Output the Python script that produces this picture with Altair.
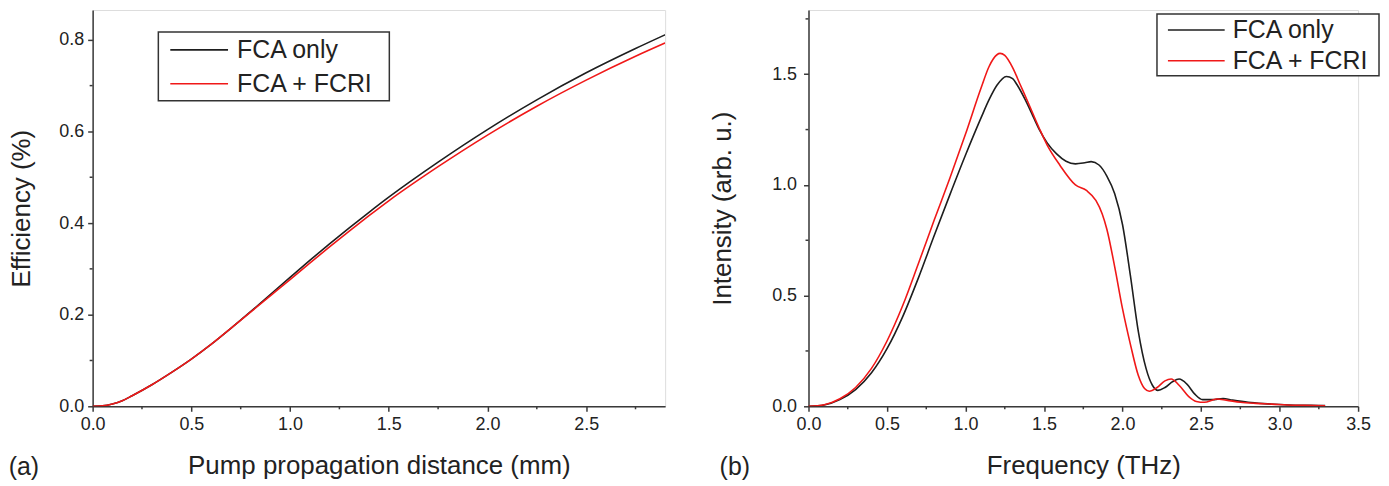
import altair as alt
import pandas as pd

# ---------------- data ----------------
series_names = ["FCA only", "FCA + FCRI"]
series_colors = ["#1e1e1e", "#f01818"]

# panel (a): efficiency vs pump propagation distance
dist_mm = [0.0, 0.05, 0.1, 0.15, 0.2, 0.3, 0.4, 0.5, 0.6, 0.7, 0.8, 0.9, 1.0,
           1.1, 1.2, 1.3, 1.4, 1.5, 1.75, 2.0, 2.25, 2.5, 2.75, 2.9]
eff_fca = [0.0, 0.001, 0.005, 0.012, 0.023, 0.047, 0.074, 0.103, 0.135, 0.170,
           0.2065, 0.244, 0.2815, 0.3185, 0.3545, 0.3895, 0.4235, 0.4565, 0.533,
           0.604, 0.669, 0.728, 0.781, 0.811]
eff_fcri = [0.0, 0.001, 0.005, 0.012, 0.023, 0.047, 0.074, 0.103, 0.135, 0.170,
            0.2055, 0.241, 0.2765, 0.3125, 0.348, 0.3825, 0.416, 0.4485, 0.523,
            0.592, 0.655, 0.712, 0.764, 0.793]

# panel (b): THz spectra
freq_fca = [0.0, 0.1, 0.2, 0.3, 0.4, 0.5, 0.6, 0.7, 0.8, 0.9, 1.0, 1.1, 1.15, 1.2,
            1.26, 1.3, 1.33, 1.38, 1.43, 1.47, 1.52, 1.58, 1.64, 1.7, 1.76, 1.8,
            1.85, 1.9, 1.95, 2.0, 2.05, 2.1, 2.15, 2.19, 2.225, 2.27, 2.32, 2.36,
            2.41, 2.46, 2.51, 2.57, 2.64, 2.7, 2.8, 2.9, 3.0, 3.1, 3.2, 3.29]
int_fca = [0.0, 0.006, 0.03, 0.075, 0.15, 0.26, 0.405, 0.58, 0.77, 0.955, 1.135,
           1.305, 1.385, 1.45, 1.49, 1.48, 1.45, 1.385, 1.31, 1.25, 1.19, 1.14,
           1.107, 1.095, 1.10, 1.105, 1.09, 1.04, 0.96, 0.82, 0.59, 0.34, 0.17,
           0.095, 0.072, 0.085, 0.112, 0.123, 0.10, 0.055, 0.03, 0.03, 0.035,
           0.028, 0.018, 0.012, 0.008, 0.005, 0.004, 0.003]

freq_fcri = [0.0, 0.1, 0.2, 0.3, 0.4, 0.5, 0.6, 0.7, 0.8, 0.9, 1.0, 1.1, 1.15, 1.2,
             1.22, 1.25, 1.3, 1.35, 1.4, 1.47, 1.52, 1.6, 1.7, 1.77, 1.83, 1.87,
             1.9, 1.95, 2.0, 2.05, 2.1, 2.14, 2.17, 2.22, 2.27, 2.31, 2.36, 2.42,
             2.47, 2.52, 2.6, 2.66, 2.75, 2.85, 2.95, 3.05, 3.15, 3.29]
int_fcri = [0.0, 0.007, 0.034, 0.085, 0.17, 0.295, 0.455, 0.645, 0.84, 1.03, 1.23,
            1.44, 1.535, 1.588, 1.594, 1.585, 1.53, 1.45, 1.37, 1.255, 1.18, 1.09,
            1.0, 0.975, 0.93, 0.87, 0.8, 0.63, 0.44, 0.28, 0.14, 0.08, 0.068,
            0.085, 0.115, 0.123, 0.095, 0.045, 0.022, 0.018, 0.033, 0.028, 0.018,
            0.013, 0.01, 0.006, 0.004, 0.002]

a_x_ticks = [0.0, 0.5, 1.0, 1.5, 2.0, 2.5]
a_x_minor = [0.25, 0.75, 1.25, 1.75, 2.25, 2.75]
a_y_ticks = [0.0, 0.2, 0.4, 0.6, 0.8]
a_y_minor = [0.1, 0.3, 0.5, 0.7]
b_x_ticks = [0.0, 0.5, 1.0, 1.5, 2.0, 2.5, 3.0, 3.5]
b_x_minor = [0.25, 0.75, 1.25, 1.75, 2.25, 2.75, 3.25]
b_y_ticks = [0.0, 0.5, 1.0, 1.5]
b_y_minor = [0.25, 0.75, 1.25, 1.75]

FONT = "Liberation Sans"
AX = "#3a3a3a"


def long_df(xs_list, ys_list):
    rows = []
    for name, xs, ys in zip(series_names, xs_list, ys_list):
        for x, y in zip(xs, ys):
            rows.append({"x": x, "y": y, "series": name})
    return pd.DataFrame(rows)


def make_axis(values, title, orient, label_pad, title_pad):
    return alt.Axis(values=values, format=".1f", title=title, orient=orient,
                    grid=False, tickSize=5, tickWidth=1.5, tickColor=AX,
                    domainColor=AX, domainWidth=1.5,
                    labelFont=FONT, labelFontSize=18, labelColor="#222",
                    labelPadding=label_pad, labelFlush=False, labelOverlap=False,
                    titleFont=FONT, titleFontSize=26, titleFontWeight="normal",
                    titleColor="#222", titlePadding=title_pad)


def panel(df, xdom, ydom, xt, xm, yt, ym, xtitle, ytitle, w, h, legend_box,
          tag, tag_x, ylab_pad, ytitle_pad):
    xs = alt.Scale(domain=xdom, nice=False, zero=False)
    ys = alt.Scale(domain=ydom, nice=False, zero=False)
    X = alt.X("x:Q", scale=xs, axis=make_axis(xt, xtitle, "bottom", 4, 20))
    Y = alt.Y("y:Q", scale=ys, axis=make_axis(yt, ytitle, "left", ylab_pad, ytitle_pad))
    color = alt.Color("series:N", scale=alt.Scale(domain=series_names,
                                                  range=series_colors), legend=None)
    lines = alt.Chart(df).mark_line(strokeWidth=1.6, interpolate="monotone",
                                    clip=True).encode(x=X, y=Y, color=color,
                                                      order=alt.Order("x:Q"))
    xminor = alt.Chart(pd.DataFrame({"x": xm})).mark_rule(
        color=AX, strokeWidth=1.5).encode(x=X, y=alt.value(h), y2=alt.value(h + 3))
    yminor = alt.Chart(pd.DataFrame({"y": ym})).mark_rule(
        color=AX, strokeWidth=1.5).encode(y=Y, x=alt.value(-3), x2=alt.value(0))

    bx1, bx2, by1, by2, lx1, lx2, tx, r1, r2 = legend_box
    box = alt.Chart(pd.DataFrame({"k": [0]})).mark_rect(
        fill="white", stroke="#333", strokeWidth=1.5).encode(
        x=alt.value(bx1), x2=alt.value(bx2), y=alt.value(by1), y2=alt.value(by2))
    leg = [box]
    for name, col, ry in zip(series_names, series_colors, [r1, r2]):
        leg.append(alt.Chart(pd.DataFrame({"k": [0]})).mark_rule(
            color=col, strokeWidth=1.6).encode(
            x=alt.value(lx1), x2=alt.value(lx2), y=alt.value(ry)))
        leg.append(alt.Chart(pd.DataFrame({"k": [0]})).mark_text(
            align="left", baseline="middle", font=FONT, fontSize=25,
            color="#222").encode(x=alt.value(tx), y=alt.value(ry),
                                 text=alt.value(name)))
    label = alt.Chart(pd.DataFrame({"k": [0]})).mark_text(
        align="center", baseline="middle", font=FONT, fontSize=25,
        color="#222").encode(x=alt.value(tag_x), y=alt.value(h + 61),
                             text=alt.value(tag))
    return alt.layer(lines, xminor, yminor, *leg, label).properties(width=w, height=h)


W_A, W_B, H = 575, 552, 398

chart_a = panel(long_df([dist_mm, dist_mm], [eff_fca, eff_fcri]),
                [0, 2.9], [0, 0.865], a_x_ticks, a_x_minor, a_y_ticks, a_y_minor,
                "Pump propagation distance (mm)", "Efficiency (%)", W_A, H,
                (66, 298, 22, 91, 78, 136, 145, 40, 74), "(a)", -69, 4, 24)

chart_b = panel(long_df([freq_fca, freq_fcri], [int_fca, int_fcri]),
                [0, 3.5], [0, 1.79], b_x_ticks, b_x_minor, b_y_ticks, b_y_minor,
                "Frequency (THz)", "Intensity (arb. u.)", W_B, H,
                (350, 573, 4, 66, 361, 418, 426, 20, 51), "(b)", -74, 7, 36)

chart = alt.hconcat(chart_a, chart_b, spacing=43).properties(
    padding={"left": 0, "top": 0, "right": 0, "bottom": 0}
).configure_view(stroke=None).configure(background="white")

chart.save("out.html", embed_options={"renderer": "svg", "actions": False})
